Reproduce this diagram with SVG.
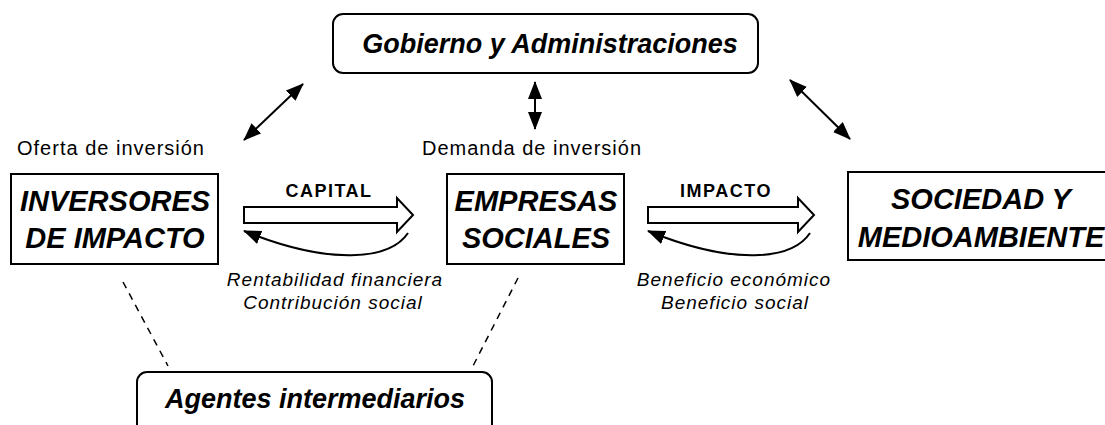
<svg xmlns="http://www.w3.org/2000/svg" width="1105" height="425" viewBox="0 0 1105 425">
<style>
text{font-family:"Liberation Sans",Arial,sans-serif;fill:#000}
.box{fill:#fff;stroke:#000;stroke-width:2}
.big{font-size:29px;font-weight:bold;font-style:italic;text-anchor:middle}
.rnd{font-size:27px;font-weight:bold;font-style:italic;text-anchor:middle}
.lbl{font-size:20px;letter-spacing:1px;text-anchor:middle}
.it{font-size:19px;font-style:italic;letter-spacing:1px;text-anchor:middle}
.flow{font-size:18px;font-weight:bold;letter-spacing:1.5px;text-anchor:middle}
.blk{fill:#fff;stroke:#000;stroke-width:2;stroke-linejoin:miter}
.ln{fill:none;stroke:#000;stroke-width:2}
.dash{fill:none;stroke:#000;stroke-width:1.5;stroke-dasharray:7,6}
</style>
<defs>
<marker id="ah" viewBox="0 0 18 14" refX="17" refY="7" markerWidth="18" markerHeight="14" markerUnits="userSpaceOnUse" orient="auto-start-reverse">
<path d="M0,0 L18,7 L0,14 z" fill="#000"/>
</marker>
</defs>

<g id="gobierno">
<rect class="box" x="333" y="14" width="425" height="59" rx="10"/>
<text class="rnd" x="550" y="53">Gobierno y Administraciones</text>
</g>

<g id="inversores">
<text class="lbl" x="111" y="155">Oferta de inversión</text>
<rect class="box" x="11" y="174" width="207" height="90"/>
<text class="big" x="115" y="211">INVERSORES</text>
<text class="big" x="115" y="248">DE IMPACTO</text>
</g>

<g id="empresas">
<text class="lbl" x="532" y="155">Demanda de inversión</text>
<rect class="box" x="447" y="174" width="177" height="90"/>
<text class="big" x="536" y="211">EMPRESAS</text>
<text class="big" x="536" y="248">SOCIALES</text>
</g>

<g id="sociedad">
<rect class="box" x="848" y="172" width="266" height="88"/>
<text class="big" x="981" y="209">SOCIEDAD Y</text>
<text class="big" x="981" y="247">MEDIOAMBIENTE</text>
</g>

<g id="agentes">
<rect class="box" x="137" y="372" width="355" height="70" rx="10"/>
<text class="rnd" x="315" y="408">Agentes intermediarios</text>
</g>

<g id="connectors">
<line class="ln" x1="244" y1="140" x2="303" y2="84" marker-start="url(#ah)" marker-end="url(#ah)"/>
<line class="ln" x1="535" y1="82" x2="535" y2="129" marker-start="url(#ah)" marker-end="url(#ah)"/>
<line class="ln" x1="790" y1="80" x2="850" y2="139" marker-start="url(#ah)" marker-end="url(#ah)"/>

<polygon class="blk" points="244,207 397,207 397,198 413,215 397,232 397,223 244,223"/>
<text class="flow" x="329" y="197">CAPITAL</text>
<path class="ln" d="M408,233 C390,260 330,266 244,231" marker-end="url(#ah)"/>
<text class="it" x="335" y="286">Rentabilidad financiera</text>
<text class="it" x="333" y="309">Contribución social</text>

<polygon class="blk" points="648,207 798,207 798,198 814,215 798,232 798,223 648,223"/>
<text class="flow" x="726" y="197">IMPACTO</text>
<path class="ln" d="M810,233 C792,260 734,266 648,231" marker-end="url(#ah)"/>
<text class="it" x="734" y="286">Beneficio económico</text>
<text class="it" x="735" y="309">Beneficio social</text>

<line class="dash" x1="123" y1="282" x2="168" y2="366"/>
<line class="dash" x1="518" y1="278" x2="473" y2="366"/>
</g>
</svg>
